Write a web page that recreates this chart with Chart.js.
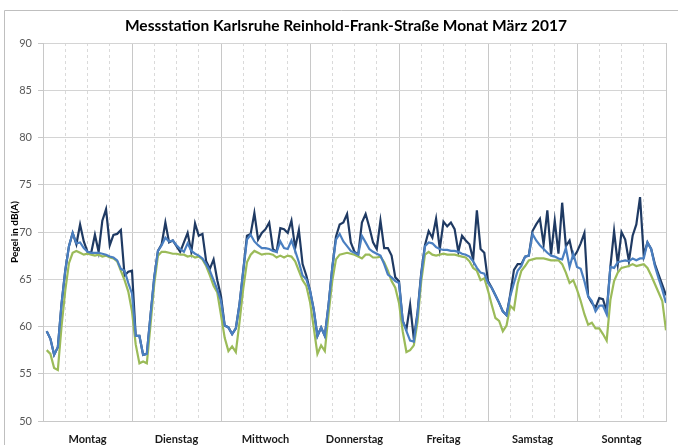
<!DOCTYPE html>
<html lang="de">
<head>
<meta charset="utf-8">
<title>Messstation Karlsruhe Reinhold-Frank-Straße</title>
<script src="https://cdn.jsdelivr.net/npm/chart.js@4.4.1/dist/chart.umd.min.js"></script>
<style>
  html, body { margin: 0; padding: 0; background: #fff; }
</style>
</head>
<body>
<canvas id="pegelChart" width="678" height="445"></canvas>
<script>
/* ========= DATEN ========= */
const titel = "Messstation Karlsruhe Reinhold-Frank-Straße Monat März 2017";
const tage = ["Montag", "Dienstag", "Mittwoch", "Donnerstag", "Freitag", "Samstag", "Sonntag"];
const yMin = 50, yMax = 90, yStep = 5;

// Stundenwerte, je Tag 24 Werte (Mo .. So)
const pegelDunkel = [
  59.5, 58.7, 57.0, 57.8, 62.4, 65.9, 68.5, 69.9, 68.7, 70.8, 69.0, 67.9, 67.8, 69.7, 67.9, 71.2, 72.4, 68.6, 69.7, 69.8, 70.2, 65.4, 65.8, 65.9,
  59.0, 59.0, 57.0, 57.1, 61.2, 65.2, 68.0, 68.7, 71.0, 68.9, 69.1, 68.5, 67.9, 68.9, 69.9, 67.9, 70.9, 69.6, 69.8, 66.9, 66.1, 67.1, 64.9, 63.2,
  60.1, 59.9, 59.2, 59.8, 62.4, 65.9, 69.6, 69.8, 72.0, 69.2, 69.9, 70.3, 71.0, 68.2, 67.9, 70.4, 70.3, 69.9, 71.2, 68.3, 70.2, 66.6, 65.4, 63.8,
  61.8, 59.0, 59.9, 59.0, 62.3, 66.2, 69.5, 70.8, 71.0, 71.9, 68.9, 67.9, 67.6, 71.0, 71.9, 70.5, 68.9, 68.2, 71.2, 68.3, 68.3, 67.5, 65.2, 64.8,
  60.6, 59.7, 62.3, 58.7, 61.5, 65.7, 68.6, 70.1, 69.4, 71.4, 68.2, 71.1, 70.6, 71.0, 70.3, 67.9, 69.6, 69.1, 68.7, 67.1, 72.3, 68.2, 67.8, 64.8,
  64.1, 63.3, 62.5, 61.6, 61.2, 63.4, 66.0, 66.6, 66.6, 67.4, 67.5, 70.1, 70.8, 71.4, 68.7, 72.3, 67.6, 71.2, 67.7, 73.1, 68.5, 69.1, 67.3, 67.9,
  68.8, 69.9, 63.2, 62.5, 62.0, 63.0, 62.9, 61.6, 66.3, 70.1, 66.6, 70.0, 69.2, 66.9, 69.6, 70.8, 73.7, 67.5, 68.9, 68.2, 66.6, 65.5, 64.4, 63.3
];
const pegelBlau = [
  59.5, 58.7, 57.0, 57.8, 62.4, 65.9, 68.5, 69.9, 68.8, 68.9, 68.3, 67.9, 67.8, 67.8, 67.8, 67.7, 67.6, 67.4, 67.3, 67.0, 66.1, 65.9, 64.6, 63.5,
  59.0, 59.0, 57.0, 57.1, 61.2, 65.2, 68.0, 68.6, 69.4, 69.0, 69.1, 68.6, 68.2, 67.9, 68.8, 68.0, 67.7, 67.5, 67.2, 66.6, 65.9, 64.9, 63.9, 62.7,
  60.1, 59.9, 59.2, 59.8, 62.4, 65.9, 69.2, 69.7, 69.0, 68.6, 68.3, 68.3, 68.2, 68.0, 67.9, 69.0, 68.3, 68.2, 69.1, 68.0, 66.8, 65.4, 65.0, 63.8,
  61.8, 59.0, 59.9, 59.0, 62.3, 66.2, 69.2, 69.8, 69.0, 68.5, 68.0, 67.8, 67.6, 69.6, 68.9, 68.2, 67.9, 67.7, 67.5, 66.6, 65.5, 65.2, 64.8, 64.6,
  60.6, 59.5, 58.5, 58.4, 61.3, 65.5, 68.5, 68.9, 68.8, 68.4, 68.2, 68.1, 68.1, 68.0, 68.0, 67.9, 67.7, 67.6, 67.4, 66.9, 66.2, 65.7, 65.6, 64.6,
  64.1, 63.3, 62.5, 61.6, 61.2, 63.2, 64.6, 65.9, 66.4, 67.4, 67.5, 69.8, 69.1, 68.6, 68.2, 67.8, 67.5, 67.4, 67.2, 67.1, 68.3, 66.3, 67.7, 66.3,
  66.1, 64.8, 63.2, 62.7, 61.6, 62.2, 62.2, 61.3, 66.3, 66.2, 66.8, 66.9, 67.0, 66.9, 67.2, 67.0, 67.2, 67.2, 68.9, 68.2, 66.4, 65.1, 63.9, 62.5
];
const pegelGruen = [
  57.5, 57.1, 55.6, 55.4, 60.0, 63.8, 66.7, 67.8, 68.0, 67.8, 67.6, 67.7, 67.6, 67.5, 67.6, 67.4, 67.5, 67.3, 67.2, 66.9, 65.9, 64.9, 63.7, 61.6,
  58.1, 56.1, 56.3, 56.1, 60.2, 64.5, 67.5, 67.9, 67.9, 67.8, 67.7, 67.7, 67.6, 67.6, 67.4, 67.5, 67.3, 67.4, 67.1, 66.4, 65.4, 64.3, 63.6, 61.2,
  58.8, 57.4, 57.9, 57.3, 60.5, 64.0, 66.8, 67.6, 68.0, 67.8, 67.6, 67.7, 67.7, 67.6, 67.3, 67.5, 67.3, 67.5, 67.4, 66.9, 65.9, 64.9, 64.3, 62.6,
  59.9, 57.1, 58.0, 57.4, 61.3, 64.8, 67.1, 67.6, 67.7, 67.8, 67.7, 67.6, 67.4, 67.2, 67.6, 67.6, 67.3, 67.3, 67.4, 66.8, 65.9, 64.8, 64.1, 62.5,
  59.5, 57.3, 57.5, 58.0, 60.5, 64.8, 67.6, 67.9, 67.6, 67.5, 67.6, 67.7, 67.6, 67.6, 67.6, 67.5, 67.4, 67.3, 66.9, 66.2, 65.9, 64.9, 65.1, 63.8,
  62.3, 60.9, 60.6, 59.5, 60.1, 62.2, 61.8, 64.5, 65.9, 66.4, 67.0, 67.1, 67.2, 67.2, 67.2, 67.1, 67.0, 67.0, 67.0, 66.6, 65.7, 64.6, 64.9, 63.9,
  62.7, 61.3, 60.2, 60.4, 59.8, 59.8, 59.2, 58.5, 62.8, 64.8, 65.7, 66.2, 66.3, 66.4, 66.6, 66.4, 66.5, 66.6, 66.2, 65.4, 64.5, 63.6, 62.7, 59.6
];

/* ========= HILFEN ========= */
const FONT = "Lato, 'Open Sans', sans-serif";
const stundenPunkte = werte => werte.map((v, i) => ({ x: i + 1, y: v }));
const istTagesgrenze = ctx => ctx.tick && ctx.tick.value % 24 === 0;

// Rahmen + Titel (Titel leicht rechts der Mitte wie im Original)
const rahmenPlugin = {
  id: "rahmen",
  beforeDraw(chart) {
    const c = chart.ctx;
    c.save();
    c.strokeStyle = "#bfbfbf";
    c.lineWidth = 1;
    c.beginPath();
    c.moveTo(4.5, chart.height);
    c.lineTo(4.5, 10.5);
    c.lineTo(chart.width, 10.5);
    c.stroke();
    c.restore();
  },
  afterDraw(chart) {
    const c = chart.ctx;
    c.save();
    c.font = "bold 15.5px " + FONT;
    c.fillStyle = "#000";
    c.textAlign = "center";
    c.textBaseline = "middle";
    c.fillText(titel, 346, 26);
    c.restore();
  }
};

/* ========= CHART ========= */
new Chart(document.getElementById("pegelChart"), {
  type: "line",
  data: {
    datasets: [
      { data: stundenPunkte(pegelBlau), borderColor: "#4a7fc1", order: 0 },
      { data: stundenPunkte(pegelGruen), borderColor: "#9bbb59", order: 1 },
      { data: stundenPunkte(pegelDunkel), borderColor: "#1f3a63", order: 2 }
    ]
  },
  options: {
    responsive: false,
    animation: false,
    layout: { padding: { left: 4, right: 3, top: 43, bottom: 0 } },
    elements: {
      point: { radius: 0 },
      line: { borderWidth: 2.2, tension: 0 }
    },
    plugins: {
      legend: { display: false },
      tooltip: { enabled: false }
    },
    scales: {
      x: {
        type: "linear",
        min: 0,
        max: 168,
        afterFit: s => { s.height = 24; },
        ticks: {
          stepSize: 6,
          autoSkip: false,
          maxRotation: 0,
          padding: 12,
          color: "#1a1a1a",
          font: { family: FONT, size: 11, weight: "bold" },
          callback: v => (v % 24 === 12 ? tage[(v - 12) / 24] : "")
        },
        grid: {
          drawTicks: false,
          color: ctx => (istTagesgrenze(ctx) ? "#c8c8c8" : "#dadada"),
          lineWidth: 1
        },
        border: {
          color: "#c8c8c8",
          dash: ctx => (ctx.tick && !istTagesgrenze(ctx) ? [3, 3] : [])
        }
      },
      y: {
        min: yMin,
        max: yMax,
        afterFit: s => { s.width = 39; },
        ticks: {
          stepSize: yStep,
          padding: 6,
          color: "#595959",
          font: { family: FONT, size: 11 }
        },
        grid: { color: "#d4d4d4", tickLength: 5, tickColor: "#c8c8c8" },
        border: { color: "#c8c8c8" },
        title: {
          display: true,
          text: "Pegel in dB(A)",
          color: "#000",
          font: { family: FONT, size: 10, weight: "bold" },
          padding: { top: 5, bottom: 0 }
        }
      }
    }
  },
  plugins: [rahmenPlugin]
});
</script>
</body>
</html>
